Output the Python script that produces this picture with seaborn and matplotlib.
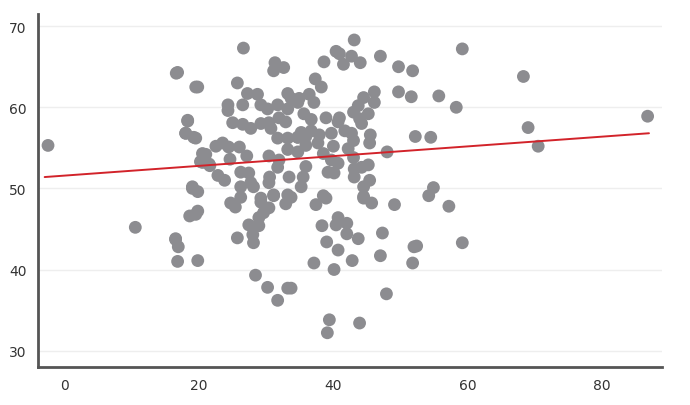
import matplotlib
matplotlib.use("Agg")
import matplotlib.pyplot as plt
import seaborn as sns
import pandas as pd

x_vals = [-2.5,10.5,16.8,16.5,16.9,16.8,18,18.3,19,19.5,19.8,19.8,19.5,20.5,21,21.5,
 26.6,16.6,31.3,31.1,32.6,19.5,25.7,27.2,28.7,33.2,24.3,24.3,26.5,29.2,30.2,31.7,33.2,34.7,
 18.3,18,19.2,25,26.5,27.7,29.2,30.4,30.7,31.9,32.9,31.7,33.2,34.7,22.5,23.5,24.4,26,33.2,
 20.5,20.2,21.6,24.6,27.1,30.4,31.9,31.7,33.4,22.8,23.8,26.2,27.4,27.7,28.1,30.5,30.4,19,
 26.2,31.1,33.2,29.2,
 43.1,40.4,40.9,42.7,38.6,41.5,44,47,49.7,51.8,37.3,38.2,46.1,49.7,51.6,55.7,36.4,34.9,37.1,33.7,
 44.5,46.1,43.7,43,45.2,43.9,44.2,35.6,36.7,38.9,40.9,40.7,35.2,36.7,37.9,34.7,35.9,39.7,41.7,
 42.7,43,45.5,45.4,52.2,54.5,35.9,37.7,40,42.2,34.7,38.5,48,43,39.7,40.7,35.9,44.2,45.2,39.2,
 40.1,43.1,35.5,43.1,45.4,35.2,44.5,54.9,54.2,38.5,44.5,
 24.7,25.4,26.2,29.2,31.1,30.4,32.9,33.7,19.8,18.6,29.6,28.9,27.4,28.9,25.7,28,28.1,16.5,
 19.8,28.4,30.2,33.2,31.7,
 38.9,37.4,44.5,45.7,49.1,57.2,40.7,40.4,42,38.3,42,43.7,47.3,39,40.7,52,52.4,47,42.8,37.1,
 40.1,51.8,33.7,47.9,39.4,43.9,39.1,
 58.3,59.2,59.2,68.3,69,70.5,86.8]
y_vals = [55.3,45.2,64.3,43.8,42.8,41,56.8,58.3,50,46.8,49.6,62.5,56.2,53.2,54.2,53,
 67.3,64.2,65.5,64.5,64.9,62.5,63,61.7,61.6,61.7,60.3,59.6,60.3,60.3,59.8,60.3,59.8,60.6,
 58.4,56.8,56.3,58.1,57.9,57.4,58,58.1,57.4,58.7,58.2,56.2,56.2,56.3,55.2,55.6,55.1,55.1,54.8,
 54.3,53.3,52.8,53.6,54,54,53.5,52.6,51.4,51.6,51,52,51.9,50.7,50.2,51.4,50.7,50.2,
 50.2,49.2,49.2,48.8,
 68.3,66.9,66.6,66.3,65.6,65.3,65.5,66.3,65,64.5,63.5,62.5,61.9,61.9,61.3,61.4,61.6,61.1,60.6,61.1,
 61.2,60.6,60.2,59.4,59.2,58.6,58,59.2,58.5,58.7,58.7,58.2,56.9,57.1,56.6,56.3,56.4,56.8,57.1,
 56.8,55.9,56.6,55.6,56.4,56.3,55.3,55.6,55.2,54.9,54.5,54.3,54.5,53.8,53.5,53.1,52.7,52.6,52.9,52,
 51.9,52.4,51.4,51.4,51,50.2,50.2,50.1,49.1,49.1,49,
 48.2,47.7,48.9,48.3,49.1,47.6,48.1,48.9,47.2,46.6,47,46.4,45.5,45.4,43.9,44.3,43.3,43.7,
 41.1,39.3,37.8,37.7,36.2,
 48.8,48,48.8,48.2,48,47.8,46.4,45.5,45.7,45.4,44.4,43.8,44.5,43.4,42.4,42.8,42.9,41.7,41.1,40.8,
 40,40.8,37.7,37,33.8,33.4,32.2,
 60,43.3,67.2,63.8,57.5,55.2,58.9]
line_x = [-3, 87]
line_y = [51.4, 56.8]

df = pd.DataFrame({"x": x_vals, "y": y_vals})
sns.set_style("white")
fig = plt.figure(figsize=(6.9, 4.06), dpi=100)
ax = fig.add_axes([0.055, 0.094, 0.905, 0.869])
ax.set_axisbelow(True)
for v in [30, 40, 50, 60, 70]:
    ax.axhline(v, color="#eeeeee", lw=1, zorder=0)
sns.scatterplot(data=df, x="x", y="y", ax=ax, color="#8c8c90", s=85,
                edgecolor="none", alpha=1, zorder=2)
sns.lineplot(x=line_x, y=line_y, ax=ax, color="#d2232a", lw=1.4, zorder=3)
ax.set_xlim(-4, 89)
ax.set_ylim(28, 71.5)
ax.set_xticks([0, 20, 40, 60, 80])
ax.set_yticks([30, 40, 50, 60, 70])
ax.set_xlabel(""); ax.set_ylabel("")
for s in ["top", "right"]:
    ax.spines[s].set_visible(False)
for s in ["left", "bottom"]:
    ax.spines[s].set_color("#555555")
    ax.spines[s].set_linewidth(2)
ax.tick_params(length=0, labelsize=10, colors="#333333", pad=8)
fig.savefig("out.png", dpi=100)
